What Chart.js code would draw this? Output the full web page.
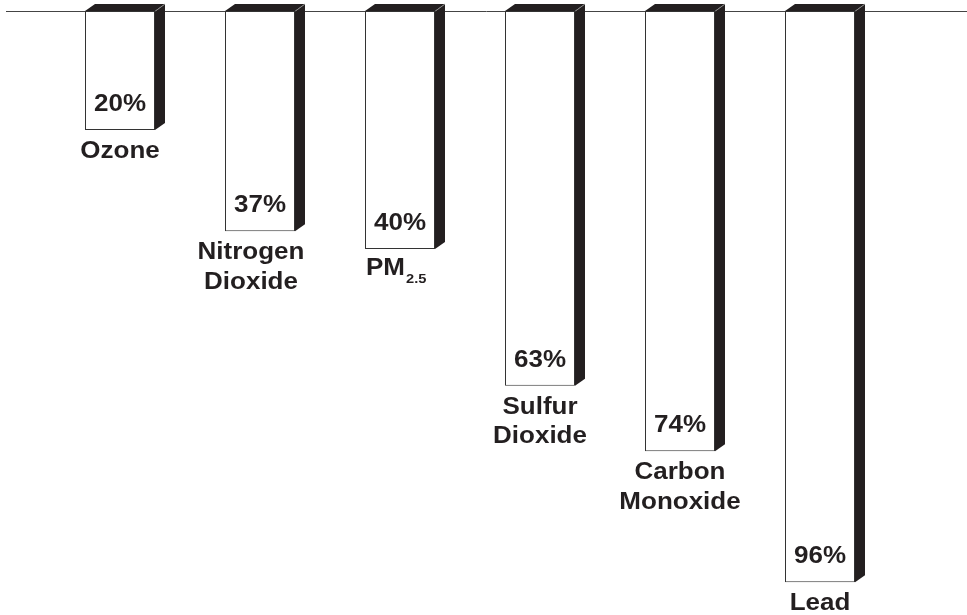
<!DOCTYPE html>
<html>
<head>
<meta charset="utf-8">
<style>
  html, body { margin: 0; padding: 0; background: #ffffff; }
  #wrap { width: 967px; height: 615px; position: relative; }
</style>
<script src="https://cdn.jsdelivr.net/npm/chart.js@4.4.1/dist/chart.umd.min.js"></script>
</head>
<body>
<div id="wrap"><canvas id="chart" width="967" height="615"></canvas></div>
<script>
// Pollutants and their percentage decline
const categories = ['Ozone', 'Nitrogen Dioxide', 'PM2.5', 'Sulfur Dioxide', 'Carbon Monoxide', 'Lead'];
const labelLines = [['Ozone'], ['Nitrogen', 'Dioxide'], ['PM'], ['Sulfur', 'Dioxide'], ['Carbon', 'Monoxide'], ['Lead']];
const subscripts = ['', '', '2.5', '', '', ''];
const values = [20, 37, 40, 63, 74, 96];
const valueSuffix = '%';

const INK = '#231f20';
const FONT = '"Liberation Sans", Arial, Helvetica, sans-serif';
const TEXT_PX = 23;      // glyph height
const TEXT_STRETCH = 1.13; // horizontal widening of the bold face
const DEPTH_X = 10, DEPTH_Y = 7;

// Draw bold text widened horizontally; align: 'left' | 'center'
function wideText(ctx, str, x, y, size, align) {
  ctx.save();
  ctx.font = 'bold ' + size + 'px ' + FONT;
  ctx.textBaseline = 'alphabetic';
  ctx.textAlign = align;
  ctx.translate(x, y);
  ctx.scale(TEXT_STRETCH, 1);
  ctx.fillText(str, 0, 0);
  ctx.restore();
}
function wideWidth(ctx, str, size) {
  ctx.save();
  ctx.font = 'bold ' + size + 'px ' + FONT;
  const w = ctx.measureText(str).width * TEXT_STRETCH;
  ctx.restore();
  return w;
}

// Baseline rule drawn across the top of the plot
const baselinePlugin = {
  id: 'baseline',
  beforeDatasetsDraw(chart) {
    const ctx = chart.ctx;
    const y = Math.round(chart.scales.y.getPixelForValue(0)) + 0.5;
    ctx.save();
    ctx.strokeStyle = '#444';
    ctx.lineWidth = 1;
    ctx.beginPath();
    ctx.moveTo(6, y);
    ctx.lineTo(chart.width, y);
    ctx.stroke();
    ctx.restore();
  }
};

// Extruded side/top faces, value labels and category captions for each bar
const blockPlugin = {
  id: 'blocks',
  afterDatasetsDraw(chart) {
    const ctx = chart.ctx;
    const meta = chart.getDatasetMeta(0);
    ctx.save();
    meta.data.forEach((bar, i) => {
      const p = bar.getProps(['x', 'y', 'base', 'width'], true);
      const x1 = p.x - p.width / 2, x2 = p.x + p.width / 2;
      const top = Math.min(p.y, p.base), bottom = Math.max(p.y, p.base);

      ctx.fillStyle = INK;
      // right side face
      ctx.beginPath();
      ctx.moveTo(x2, top);
      ctx.lineTo(x2 + DEPTH_X, top - DEPTH_Y);
      ctx.lineTo(x2 + DEPTH_X, bottom - DEPTH_Y);
      ctx.lineTo(x2, bottom);
      ctx.closePath();
      ctx.fill();
      // top face
      ctx.beginPath();
      ctx.moveTo(x1, top);
      ctx.lineTo(x1 + DEPTH_X, top - DEPTH_Y);
      ctx.lineTo(x2 + DEPTH_X, top - DEPTH_Y);
      ctx.lineTo(x2, top);
      ctx.closePath();
      ctx.fill();
      // faint highlight on the front-right edge
      ctx.strokeStyle = '#8a8a8a';
      ctx.lineWidth = 1;
      ctx.beginPath();
      ctx.moveTo(x2 + 0.5, top);
      ctx.lineTo(x2 + DEPTH_X, top - DEPTH_Y);
      ctx.stroke();

      // value label inside the bar, near its end
      ctx.fillStyle = INK;
      wideText(ctx, values[i] + valueSuffix, p.x, bottom - 19, TEXT_PX, 'center');

      // category caption below the bar
      const lines = labelLines[i];
      const shift = i === 1 ? -9 : 0;
      const baseY = bottom + 28;
      if (subscripts[i]) {
        const startX = x1 + 1;
        const wMain = wideWidth(ctx, lines[0], TEXT_PX);
        wideText(ctx, lines[0], startX, baseY - 2, TEXT_PX, 'left');
        wideText(ctx, subscripts[i], startX + wMain + 1, baseY + 6, 13, 'left');
      } else {
        lines.forEach((ln, k) => {
          wideText(ctx, ln, p.x + shift, baseY + k * 29.5, TEXT_PX, 'center');
        });
      }
    });
    ctx.restore();
  }
};

new Chart(document.getElementById('chart'), {
  type: 'bar',
  data: {
    labels: categories,
    datasets: [{
      data: values,
      backgroundColor: '#ffffff',
      borderColor: '#333333',
      borderWidth: 1,
      borderSkipped: false,
      categoryPercentage: 1.0,
      barPercentage: 0.5
    }]
  },
  options: {
    responsive: false,
    animation: false,
    devicePixelRatio: 1,
    layout: { padding: { left: 50, right: 77, top: 11, bottom: 9 } },
    plugins: { legend: { display: false }, tooltip: { enabled: false } },
    scales: {
      x: { display: false },
      y: { display: false, reverse: true, min: 0, max: 100 }
    }
  },
  plugins: [baselinePlugin, blockPlugin]
});
</script>
</body>
</html>
